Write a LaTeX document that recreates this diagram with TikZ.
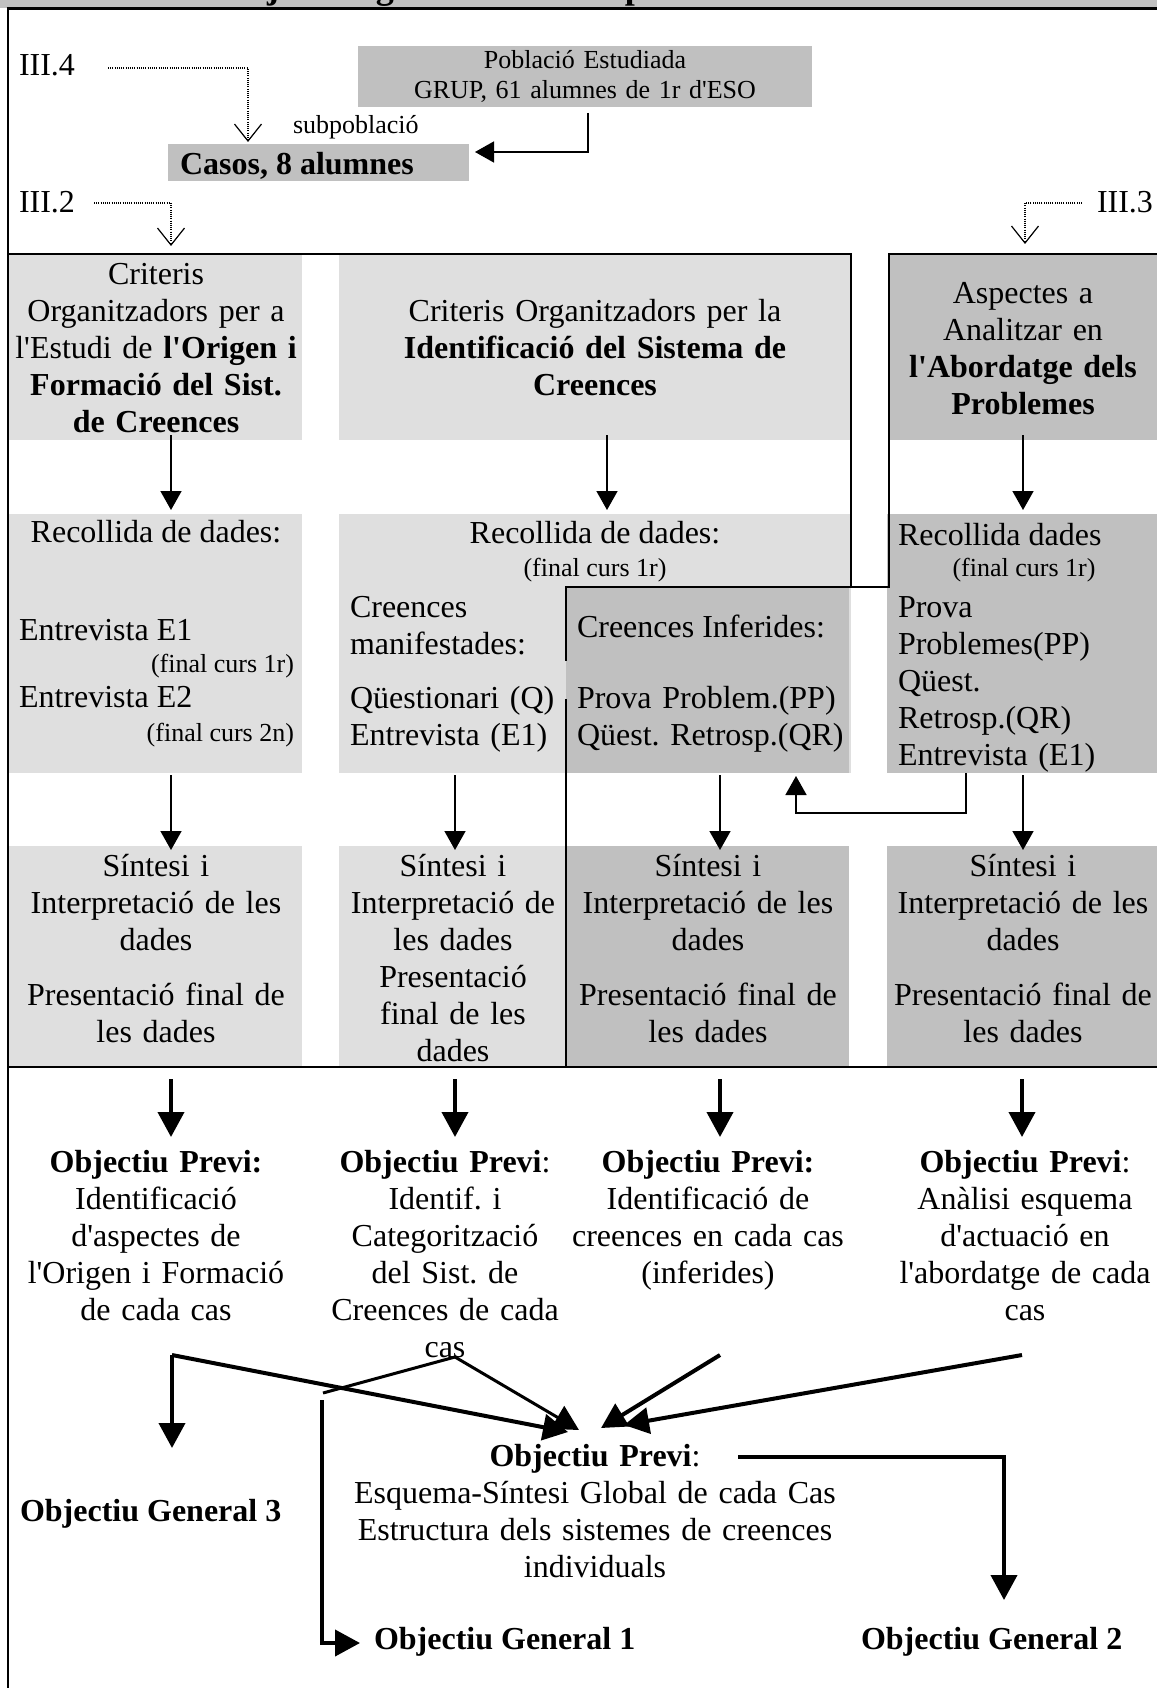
\documentclass[tikz,border=0pt]{standalone}
\usepackage{fontspec}
\setmainfont{Liberation Serif}
\usetikzlibrary{arrows.meta}
\definecolor{panellight}{HTML}{DFDFDF}
\definecolor{paneldark}{HTML}{C0C0C0}
\newcommand\ap{\textquotesingle}
% a filled panel given by its corners (x1,y1,x2,y2), y growing downwards
\newcommand\panelbox[6]{%
  \node[panel, fill=#6, minimum width={(#4-#2)*1pt}, minimum height={(#5-#3)*1pt}]
    (#1) at ({(#2+#4)/2},{(#3+#5)/2}) {};}
\begin{document}
\frenchspacing
\begin{tikzpicture}[x=1pt,y=-1pt,
  panel/.style={rectangle, draw=none, inner sep=0pt, outer sep=0pt},
  body/.style={font=\fontsize{32}{37}\selectfont},
  note/.style={font=\fontsize{26}{30}\selectfont},
  txtbase/.style={inner sep=0pt, outer sep=0pt, anchor=base},
  block/.style={txtbase, text width=#1, align=center},
  leftblock/.style={txtbase, text width=#1, align=left, anchor=base west},
  rule/.style={line width=2pt},
  heavyrule/.style={line width=2.6pt},
  flow/.style={line width=1.6pt, -{Triangle[length=19pt,width=21pt]}},
  bigflow/.style={line width=4pt, -{Triangle[length=25pt,width=26pt]}},
  midline/.style={line width=3pt},
  midflow/.style={line width=3pt, -{Triangle[length=25pt,width=26pt]}},
  guide/.style={line width=1.1pt, dash pattern=on 1pt off 1.2pt,
    -{Straight Barb[length=17pt,width=27pt,line width=1.2pt]}},
]
\useasboundingbox (0,0) rectangle (1157,1688);
\fill[white] (0,0) rectangle (1157,1688);

% ---------- title band and outer frame ----------
\panelbox{titleband}{0}{0}{1157}{8.5}{paneldark}
\begin{scope}
  \clip (0,0) rectangle (1157,8);
  \node[txtbase, anchor=base west, font=\fontsize{36}{40}\selectfont\bfseries] (title)
    at (37,-1) {Relació dels objectius generals amb el pla de l\ap{}estudi de casos};
\end{scope}
\draw[line width=3pt] (6.7,9) -- (1157,9);
\draw[heavyrule] (8,9) -- (8,1688);

% ---------- panels ----------
\panelbox{pop}{358}{46}{812}{107}{paneldark}
\panelbox{cases}{168}{144}{469}{181}{paneldark}

\panelbox{orgA}{9}{255}{302}{440}{panellight}
\panelbox{orgB}{339}{255}{851}{440}{panellight}
\panelbox{orgC}{889}{255}{1157}{440}{paneldark}

\panelbox{colA}{9}{514}{302}{773}{panellight}
\panelbox{colB}{339}{514}{851}{773}{panellight}
\panelbox{colInf}{566}{587}{849}{773}{paneldark}
\panelbox{colC}{887}{514}{1157}{773}{paneldark}

\panelbox{synA}{9}{846}{302}{1067}{panellight}
\panelbox{synB}{339}{846}{566}{1067}{panellight}
\panelbox{synInf}{566}{846}{849}{1067}{paneldark}
\panelbox{synC}{887}{846}{1157}{1067}{paneldark}

% ---------- section frame lines ----------
\draw[rule] (8,254.5) -- (851,254.5) -- (851,587) -- (566,587) -- (566,661);
\draw[rule] (851,587) -- (889,587) -- (889,254.5) -- (1157,254.5);
\draw[rule] (566,699) -- (566,1067);
\draw[heavyrule] (8,1067) -- (1157,1067);

% ---------- top: population and cases ----------
\node[txtbase, body, anchor=base west] (secFour) at (19,76) {III.4};
\node[txtbase, body, anchor=base west] (secTwo) at (19,213) {III.2};
\node[txtbase, body, anchor=base west] (secThree) at (1097,213) {III.3};
\node[block=440, note] (popText) at (585,69) {Població Estudiada\\GRUP, 61 alumnes de 1r d\ap{}ESO};
\node[txtbase, note, anchor=base west] (subpop) at (293,134) {subpoblació};
\node[txtbase, body, anchor=base west] (casesText) at (180,175) {\textbf{Casos, 8 alumnes}};

% ---------- first row: organising criteria ----------
\node[block=292, body] (orgAtext) at (156,284)
  {Criteris\\Organitzadors per a\\l\ap{}Estudi de \textbf{l\ap{}Origen i}\\\textbf{Formació del Sist.}\\\textbf{de Creences}};
\node[block=500, body] (orgBtext) at (595,321)
  {Criteris Organitzadors per la\\\textbf{Identificació del Sistema de}\\\textbf{Creences}};
\node[block=268, body] (orgCtext) at (1023,303)
  {Aspectes a\\Analitzar en\\\textbf{l\ap{}Abordatge dels}\\\textbf{Problemes}};

% ---------- second row: data collection ----------
\node[txtbase, body] (recA) at (156,542) {Recollida de dades:};
\node[txtbase, body, anchor=base west] (intOne) at (19,640) {Entrevista E1};
\node[txtbase, note, anchor=base east] (intOneWhen) at (294,672) {(final curs 1r)};
\node[txtbase, body, anchor=base west] (intTwo) at (19,707) {Entrevista E2};
\node[txtbase, note, anchor=base east] (intTwoWhen) at (294,741) {(final curs 2n)};

\node[txtbase, body] (recB) at (595,543) {Recollida de dades:};
\node[txtbase, note] (recBWhen) at (595,576) {(final curs 1r)};
\node[leftblock=215, body] (manifest) at (350,617) {Creences\\manifestades:};
\node[leftblock=215, body] (manifestTools) at (350,708) {Qüestionari (Q)\\Entrevista (E1)};
\node[txtbase, body, anchor=base west] (inferred) at (577,637) {Creences Inferides:};
\node[leftblock=330, body] (inferredTools) at (577,708) {Prova Problem.(PP)\\Qüest. Retrosp.(QR)};

\node[txtbase, body, anchor=base west] (recC) at (898,545) {Recollida dades};
\node[txtbase, note] (recCWhen) at (1024,576) {(final curs 1r)};
\node[leftblock=255, body] (recCTools) at (898,617)
  {Prova\\Problemes(PP)\\Qüest.\\Retrosp.(QR)\\Entrevista (E1)};

% ---------- third row: synthesis ----------
\node[block=292, body] (synAtext) at (156,876)
  {Síntesi i\\Interpretació de les\\dades\\[18pt]Presentació final de\\les dades};
\node[block=227, body] (synBtext) at (453,876)
  {Síntesi i\\Interpretació de\\les dades\\Presentació\\final de les\\dades};
\node[block=283, body] (synInftext) at (708,876)
  {Síntesi i\\Interpretació de les\\dades\\[18pt]Presentació final de\\les dades};
\node[block=270, body] (synCtext) at (1023,876)
  {Síntesi i\\Interpretació de les\\dades\\[18pt]Presentació final de\\les dades};

% ---------- preliminary objectives ----------
\node[block=300, body] (objA) at (156,1172)
  {\textbf{Objectiu Previ:}\\Identificació\\d\ap{}aspectes de\\l\ap{}Origen i Formació\\de cada cas};
\node[block=300, body] (objB) at (445,1172)
  {\textbf{Objectiu Previ}:\\Identif. i\\Categorització\\del Sist. de\\Creences de cada\\cas};
\node[block=300, body] (objInf) at (708,1172)
  {\textbf{Objectiu Previ:}\\Identificació de\\creences en cada cas\\(inferides)};
\node[block=300, body] (objC) at (1025,1172)
  {\textbf{Objectiu Previ}:\\Anàlisi esquema\\d\ap{}actuació en\\l\ap{}abordatge de cada\\cas};

\node[block=560, body] (objGlobal) at (595,1466)
  {\textbf{Objectiu Previ}:\\Esquema-Síntesi Global de cada Cas\\Estructura dels sistemes de creences\\individuals};
\node[txtbase, body, anchor=base west] (genThree) at (20,1521) {\textbf{Objectiu General 3}};
\node[txtbase, body, anchor=base west] (genOne) at (374,1649) {\textbf{Objectiu General 1}};
\node[txtbase, body, anchor=base west] (genTwo) at (861,1649) {\textbf{Objectiu General 2}};

% ---------- dotted chapter pointers ----------
\coordinate (secFourOut) at (108,68);
\coordinate (casesTop) at (248,142);
\coordinate (secTwoOut) at (94,203);
\coordinate (orgATop) at (171,246);
\coordinate (secThreeOut) at (1082,203);
\coordinate (orgCTop) at (1025,244);
\draw[guide] (secFourOut) -| (casesTop);
\draw[guide] (secTwoOut) -| (orgATop);
\draw[guide] (secThreeOut) -| (orgCTop);

% ---------- population to cases ----------
\coordinate (popOut) at (588,113);
\coordinate (casesIn) at (475,152);
\draw[flow] (popOut) |- (casesIn);

% ---------- first to second row ----------
\foreach \x/\n in {171/A,607/B,1023/C}{
  \coordinate (org\n Out) at (\x,435);
  \coordinate (col\n In) at (\x,510);
  \draw[flow] (org\n Out) -- (col\n In);
}

% ---------- second to third row ----------
\foreach \x/\n in {171/A,455/B,720/Inf,1023/C}{
  \coordinate (col\n Out) at (\x,775);
  \coordinate (syn\n In) at (\x,850);
  \draw[flow] (col\n Out) -- (syn\n In);
}

% problem-solving data also feed the inferred beliefs
\coordinate (colCFeed) at (966,773);
\coordinate (colInfFeed) at (796,776);
\draw[flow] (colCFeed) -- (966,813) -| (colInfFeed);

% ---------- synthesis to preliminary objectives ----------
\foreach \x/\n in {171/A,455/B,720/Inf,1022/C}{
  \coordinate (syn\n Out) at (\x,1079);
  \coordinate (obj\n In) at (\x,1137);
  \draw[bigflow] (syn\n Out) -- (obj\n In);
}

% ---------- preliminary objectives to general objectives ----------
\coordinate (fanA) at (172,1355);
\coordinate (fanB) at (455,1357);
\coordinate (fanBstub) at (323,1393);
\coordinate (fanC) at (720,1355);
\coordinate (fanD) at (1022,1355);
\coordinate (globalInA) at (568,1432);
\coordinate (globalInB) at (579,1430);
\coordinate (globalInC) at (601,1428);
\coordinate (globalInD) at (624,1425);
\coordinate (genThreeIn) at (172,1448);
\coordinate (genOneFrom) at (322,1400);
\coordinate (genOneIn) at (360,1643);
\coordinate (globalOut) at (738,1457);
\coordinate (genTwoIn) at (1004,1600);

\draw[bigflow] (fanA) -- (genThreeIn);
\draw[bigflow] (fanA) -- (globalInA);
\draw[midline] (fanB) -- (fanBstub);
\draw[midflow] (fanB) -- (globalInB);
\draw[bigflow] (fanC) -- (globalInC);
\draw[bigflow] (fanD) -- (globalInD);
\draw[bigflow] (genOneFrom) |- (genOneIn);
\draw[bigflow] (globalOut) -| (genTwoIn);

\end{tikzpicture}
\end{document}
